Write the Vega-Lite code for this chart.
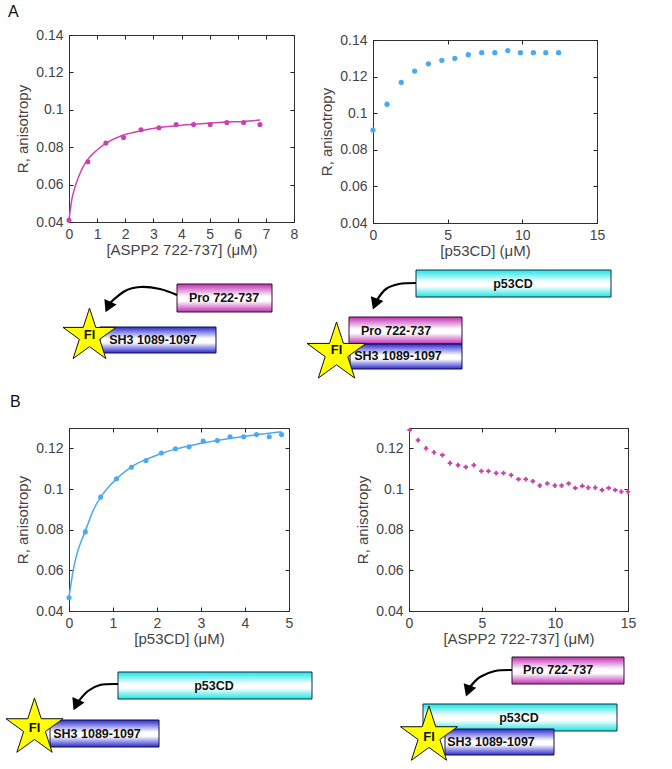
{
"$schema":"https://vega.github.io/schema/vega-lite/v6.json",
"padding":{"left":3,"top":3,"right":0,"bottom":0},
"background":"white",
"config":{
 "font":"Liberation Sans",
 "view":{"stroke":"#333333","strokeWidth":1},
 "axis":{"grid":false,"domain":false,"ticks":false,"tickSize":0,"gridColor":"#222222","gridWidth":1,"gridOpacity":1,"labelFont":"Liberation Sans","titleFont":"Liberation Sans","labelFontSize":14,"titleFontSize":15,"labelColor":"#444444","titleColor":"#444444","titleFontWeight":"normal","labelOverlap":false,"labelFlush":false},
 "title":{"font":"Liberation Sans","fontSize":16,"fontWeight":"normal","color":"#111111"}
},
"datasets":{
 "aLeftPts":[{"c":0,"r":0.0409},{"c":0.67,"r":0.0722},{"c":1.31,"r":0.0822},{"c":1.94,"r":0.0852},{"c":2.56,"r":0.0893},{"c":3.2,"r":0.0904},{"c":3.81,"r":0.0921},{"c":4.43,"r":0.0921},{"c":5.02,"r":0.0921},{"c":5.61,"r":0.0932},{"c":6.21,"r":0.0932},{"c":6.79,"r":0.0921}],
 "aLeftFit":[{"c":0,"r":0.041},{"c":0.05,"r":0.047},{"c":0.1,"r":0.052},{"c":0.2,"r":0.058},{"c":0.35,"r":0.0645},{"c":0.5,"r":0.0695},{"c":0.67,"r":0.0735},{"c":1,"r":0.0785},{"c":1.31,"r":0.082},{"c":1.94,"r":0.0865},{"c":2.56,"r":0.0888},{"c":3.2,"r":0.0905},{"c":3.81,"r":0.0915},{"c":4.43,"r":0.0923},{"c":5.02,"r":0.093},{"c":5.61,"r":0.0935},{"c":6.21,"r":0.0938},{"c":6.8,"r":0.0945}],
 "aRightPts":[{"c":0,"r":0.0908},{"c":0.94,"r":0.1049},{"c":1.89,"r":0.1168},{"c":2.79,"r":0.123},{"c":3.71,"r":0.127},{"c":4.61,"r":0.1289},{"c":5.48,"r":0.13},{"c":6.38,"r":0.132},{"c":7.28,"r":0.1331},{"c":8.16,"r":0.1331},{"c":9.03,"r":0.1342},{"c":9.87,"r":0.1331},{"c":10.74,"r":0.1331},{"c":11.57,"r":0.1331},{"c":12.43,"r":0.1331}],
 "bLeftPts":[{"c":0,"r":0.0465},{"c":0.37,"r":0.0789},{"c":0.72,"r":0.096},{"c":1.08,"r":0.105},{"c":1.42,"r":0.1107},{"c":1.75,"r":0.114},{"c":2.1,"r":0.1177},{"c":2.42,"r":0.1198},{"c":2.73,"r":0.1208},{"c":3.05,"r":0.1236},{"c":3.37,"r":0.1238},{"c":3.66,"r":0.1257},{"c":3.97,"r":0.1257},{"c":4.26,"r":0.1268},{"c":4.55,"r":0.1257},{"c":4.83,"r":0.1268}],
 "bLeftFit":[{"c":0,"r":0.047},{"c":0.05,"r":0.054},{"c":0.1,"r":0.0605},{"c":0.2,"r":0.0695},{"c":0.3,"r":0.0755},{"c":0.4,"r":0.081},{"c":0.55,"r":0.0895},{"c":0.72,"r":0.096},{"c":0.9,"r":0.101},{"c":1.08,"r":0.105},{"c":1.3,"r":0.109},{"c":1.5,"r":0.112},{"c":1.75,"r":0.1145},{"c":2.1,"r":0.1175},{"c":2.4,"r":0.1195},{"c":2.8,"r":0.1215},{"c":3.2,"r":0.1232},{"c":3.6,"r":0.1247},{"c":4,"r":0.126},{"c":4.4,"r":0.127},{"c":4.83,"r":0.1282}],
 "bRightPts":[{"c":0.05,"r":0.129},{"c":0.62,"r":0.124},{"c":1.17,"r":0.12},{"c":1.71,"r":0.118},{"c":2.29,"r":0.1167},{"c":2.81,"r":0.1127},{"c":3.36,"r":0.1117},{"c":3.89,"r":0.1108},{"c":4.44,"r":0.1117},{"c":4.96,"r":0.1088},{"c":5.44,"r":0.1088},{"c":5.97,"r":0.1078},{"c":6.47,"r":0.1078},{"c":7.0,"r":0.1068},{"c":7.5,"r":0.1048},{"c":8.0,"r":0.1048},{"c":8.48,"r":0.1038},{"c":8.96,"r":0.1017},{"c":9.47,"r":0.1027},{"c":9.99,"r":0.1017},{"c":10.45,"r":0.1017},{"c":10.93,"r":0.1027},{"c":11.39,"r":0.1005},{"c":11.87,"r":0.1015},{"c":12.28,"r":0.1007},{"c":12.76,"r":0.1007},{"c":13.22,"r":0.0995},{"c":13.67,"r":0.1005},{"c":14.13,"r":0.0995},{"c":14.54,"r":0.0987},{"c":15,"r":0.0987}],
 "boxes":[
  {"row":"A","part":"pro","label":"Pro 722-737","x0":177,"x1":272,"y0":283,"y1":311,"tx":224,"ty":297},
  {"row":"A","part":"sh3","label":"SH3 1089-1097","x0":100,"x1":216,"y0":326,"y1":352,"tx":153,"ty":339},
  {"row":"A","part":"p53","label":"p53CD","x0":416,"x1":611,"y0":269,"y1":296,"tx":513,"ty":283},
  {"row":"A","part":"pro","label":"Pro 722-737","x0":349,"x1":462,"y0":316,"y1":343,"tx":396,"ty":330},
  {"row":"A","part":"sh3","label":"SH3 1089-1097","x0":350,"x1":462,"y0":343,"y1":368,"tx":398,"ty":355},
  {"row":"B","part":"p53","label":"p53CD","x0":118,"x1":312,"y0":671,"y1":698,"tx":214,"ty":685},
  {"row":"B","part":"sh3","label":"SH3 1089-1097","x0":50,"x1":159,"y0":719,"y1":746,"tx":97,"ty":733},
  {"row":"B","part":"pro","label":"Pro 722-737","x0":512,"x1":624,"y0":656,"y1":683,"tx":558,"ty":669},
  {"row":"B","part":"p53","label":"p53CD","x0":423,"x1":617,"y0":703,"y1":730,"tx":519,"ty":717},
  {"row":"B","part":"sh3","label":"SH3 1089-1097","x0":445,"x1":554,"y0":728,"y1":754,"tx":491,"ty":741}
 ],
 "curves":[
  {"row":"A","id":"a1","o":0,"x":177,"y":294},{"row":"A","id":"a1","o":1,"x":160,"y":288},{"row":"A","id":"a1","o":2,"x":140,"y":286},{"row":"A","id":"a1","o":3,"x":125,"y":290},{"row":"A","id":"a1","o":4,"x":110,"y":302},
  {"row":"A","id":"a2","o":0,"x":416,"y":282},{"row":"A","id":"a2","o":1,"x":399,"y":283},{"row":"A","id":"a2","o":2,"x":386,"y":288},{"row":"A","id":"a2","o":3,"x":377,"y":299},
  {"row":"B","id":"b1","o":0,"x":118,"y":683},{"row":"B","id":"b1","o":1,"x":100,"y":684},{"row":"B","id":"b1","o":2,"x":88,"y":690},{"row":"B","id":"b1","o":3,"x":78,"y":701},
  {"row":"B","id":"b2","o":0,"x":512,"y":669},{"row":"B","id":"b2","o":1,"x":495,"y":670},{"row":"B","id":"b2","o":2,"x":480,"y":676},{"row":"B","id":"b2","o":3,"x":470,"y":686}
 ],
 "heads":[
  {"row":"A","x":108,"y":306,"angle":205},
  {"row":"A","x":375,"y":303,"angle":201},
  {"row":"B","x":76,"y":704,"angle":205},
  {"row":"B","x":468,"y":690,"angle":200}
 ],
 "stars":[
  {"row":"A","x":89.5,"y":335,"big":3113,"label":"Fl","ty":334},
  {"row":"A","x":336.5,"y":352,"big":3844,"label":"Fl","ty":349},
  {"row":"B","x":34.5,"y":727,"big":3600,"label":"Fl","ty":727},
  {"row":"B","x":429,"y":735,"big":3600,"label":"Fl","ty":736}
 ]
},
"bounds":"flush",
"spacing":0,
"vconcat":[
 {"bounds":"flush","spacing":79,"hconcat":[
  {"width":225,"height":187,
   "title":{"text":"A","anchor":"start","frame":"group","dx":-61,"offset":8},
   "resolve":{"axis":{"x":"independent","y":"independent"}},
   "layer":[
    {"data":{"name":"aLeftFit"},"mark":{"type":"line","color":"#cf45ae","strokeWidth":1.5,"interpolate":"monotone"},
     "encoding":{"x":{"field":"c","type":"quantitative","scale":{"domain":[0,8],"nice":false},"axis":{"values":[0,1,2,3,4,5,6,7,8],"title":"[ASPP2 722-737] (μM)","labelPadding":5,"titlePadding":1,"grid":true,"gridDash":[4,179,4,0]}},
      "y":{"field":"r","type":"quantitative","scale":{"domain":[0.04,0.14],"nice":false,"zero":false},"axis":{"values":[0.04,0.06,0.08,0.1,0.12,0.14],"format":"~g","title":"R, anisotropy","labelPadding":6,"titlePadding":5,"grid":true,"gridDash":[4,217,4,0]}}}},
    {"data":{"name":"aLeftPts"},"mark":{"type":"point","filled":true,"opacity":1,"color":"#cc40ae","size":26},
     "encoding":{"x":{"field":"c","type":"quantitative","scale":{"domain":[0,8],"nice":false},"axis":null},
      "y":{"field":"r","type":"quantitative","scale":{"domain":[0.04,0.14],"nice":false,"zero":false},"axis":null}}}
   ]},
  {"bounds":"flush","spacing":4,"vconcat":[
   {"width":1,"height":1,"view":{"stroke":null},"data":{"values":[]},"mark":"point"},
   {"width":224,"height":183,
    "data":{"name":"aRightPts"},"mark":{"type":"point","filled":true,"opacity":1,"color":"#4ca8f0","size":28},
    "encoding":{"x":{"field":"c","type":"quantitative","scale":{"domain":[0,15],"nice":false},"axis":{"values":[0,5,10,15],"title":"[p53CD] (μM)","labelPadding":5,"titlePadding":1,"grid":true,"gridDash":[4,175,4,0]}},
     "y":{"field":"r","type":"quantitative","scale":{"domain":[0.04,0.14],"nice":false,"zero":false},"axis":{"values":[0.04,0.06,0.08,0.1,0.12,0.14],"format":"~g","title":"R, anisotropy","labelPadding":6,"titlePadding":5,"grid":true,"gridDash":[4,216,4,0]}}}}
  ]}
 ]},
 {"width":603,"height":393,"view":{"stroke":null},
  "layer":[
   {"data":{"name":"boxes"},"transform":[{"filter":"datum.row==='A' && datum.part==='p53'"}],
    "mark":{"type":"rect","stroke":"#103040","strokeWidth":1,"fill":{"gradient":"linear","x1":0,"y1":0,"x2":0,"y2":1,"stops":[{"offset":0,"color":"#1fe4e4"},{"offset":0.45,"color":"#ffffff"},{"offset":0.6,"color":"#ffffff"},{"offset":1,"color":"#1fe4e4"}]}},
    "encoding":{"x":{"field":"x0","type":"quantitative","scale":{"domain":[69,672],"nice":false,"zero":false},"axis":null},"x2":{"field":"x1"},"y":{"field":"y0","type":"quantitative","scale":{"domain":[427,34],"nice":false,"zero":false},"axis":null},"y2":{"field":"y1"}}},
   {"data":{"name":"boxes"},"transform":[{"filter":"datum.row==='A' && datum.part==='pro'"}],
    "mark":{"type":"rect","stroke":"#301030","strokeWidth":1,"fill":{"gradient":"linear","x1":0,"y1":0,"x2":0,"y2":1,"stops":[{"offset":0,"color":"#c22fb4"},{"offset":0.45,"color":"#ffffff"},{"offset":0.6,"color":"#ffffff"},{"offset":1,"color":"#c22fb4"}]}},
    "encoding":{"x":{"field":"x0","type":"quantitative","scale":{"domain":[69,672],"nice":false,"zero":false},"axis":null},"x2":{"field":"x1"},"y":{"field":"y0","type":"quantitative","scale":{"domain":[427,34],"nice":false,"zero":false},"axis":null},"y2":{"field":"y1"}}},
   {"data":{"name":"boxes"},"transform":[{"filter":"datum.row==='A' && datum.part==='sh3'"}],
    "mark":{"type":"rect","stroke":"#101040","strokeWidth":1,"fill":{"gradient":"linear","x1":0,"y1":0,"x2":0,"y2":1,"stops":[{"offset":0,"color":"#2a2ad0"},{"offset":0.45,"color":"#ffffff"},{"offset":0.6,"color":"#ffffff"},{"offset":1,"color":"#2a2ad0"}]}},
    "encoding":{"x":{"field":"x0","type":"quantitative","scale":{"domain":[69,672],"nice":false,"zero":false},"axis":null},"x2":{"field":"x1"},"y":{"field":"y0","type":"quantitative","scale":{"domain":[427,34],"nice":false,"zero":false},"axis":null},"y2":{"field":"y1"}}},
   {"data":{"name":"boxes"},"transform":[{"filter":"datum.row==='A'"}],
    "mark":{"type":"text","font":"Liberation Sans","fontWeight":"bold","fontSize":12.5,"color":"#111111"},
    "encoding":{"x":{"field":"tx","type":"quantitative","scale":{"domain":[69,672],"nice":false,"zero":false},"axis":null},"y":{"field":"ty","type":"quantitative","scale":{"domain":[427,34],"nice":false,"zero":false},"axis":null},"text":{"field":"label"}}},
   {"data":{"name":"curves"},"transform":[{"filter":"datum.row==='A'"}],
    "mark":{"type":"line","color":"#000000","strokeWidth":2.2,"interpolate":"cardinal"},
    "encoding":{"x":{"field":"x","type":"quantitative","scale":{"domain":[69,672],"nice":false,"zero":false},"axis":null},"y":{"field":"y","type":"quantitative","scale":{"domain":[427,34],"nice":false,"zero":false},"axis":null},"detail":{"field":"id"},"order":{"field":"o"}}},
   {"data":{"name":"heads"},"transform":[{"filter":"datum.row==='A'"}],
    "mark":{"type":"point","shape":"triangle-up","filled":true,"opacity":1,"color":"#000000","size":180},
    "encoding":{"x":{"field":"x","type":"quantitative","scale":{"domain":[69,672],"nice":false,"zero":false},"axis":null},"y":{"field":"y","type":"quantitative","scale":{"domain":[427,34],"nice":false,"zero":false},"axis":null},"angle":{"field":"angle","type":"quantitative","scale":null}}},
   {"data":{"name":"stars"},"transform":[{"filter":"datum.row==='A'"}],
    "mark":{"type":"point","shape":"M0,-1L.2245,-.309L.951,-.309L.363,.118L.588,.809L0,.382L-.588,.809L-.363,.118L-.951,-.309L-.2245,-.309Z","filled":true,"opacity":1,"fill":"#ffff00","stroke":"#111111","strokeWidth":1},
    "encoding":{"x":{"field":"x","type":"quantitative","scale":{"domain":[69,672],"nice":false,"zero":false},"axis":null},"y":{"field":"y","type":"quantitative","scale":{"domain":[427,34],"nice":false,"zero":false},"axis":null},"size":{"field":"big","type":"quantitative","scale":null}}},
   {"data":{"name":"stars"},"transform":[{"filter":"datum.row==='A'"}],
    "mark":{"type":"text","font":"Liberation Sans","fontWeight":"bold","fontSize":13,"color":"#111111"},
    "encoding":{"x":{"field":"x","type":"quantitative","scale":{"domain":[69,672],"nice":false,"zero":false},"axis":null},"y":{"field":"ty","type":"quantitative","scale":{"domain":[427,34],"nice":false,"zero":false},"axis":null},"text":{"field":"label"}}}
  ]},
 {"bounds":"flush","spacing":120,"hconcat":[
  {"width":220,"height":183,
   "title":{"text":"B","anchor":"start","frame":"group","dx":-59,"offset":18},
   "resolve":{"axis":{"x":"independent","y":"independent"}},
   "layer":[
    {"data":{"name":"bLeftFit"},"mark":{"type":"line","color":"#4ca8f0","strokeWidth":1.5,"interpolate":"monotone"},
     "encoding":{"x":{"field":"c","type":"quantitative","scale":{"domain":[0,5],"nice":false},"axis":{"values":[0,1,2,3,4,5],"title":"[p53CD] (μM)","labelPadding":5,"titlePadding":1,"grid":true,"gridDash":[4,175,4,0]}},
      "y":{"field":"r","type":"quantitative","scale":{"domain":[0.04,0.13],"nice":false,"zero":false},"axis":{"values":[0.04,0.06,0.08,0.1,0.12],"format":"~g","title":"R, anisotropy","labelPadding":6,"titlePadding":5,"grid":true,"gridDash":[4,212,4,0]}}}},
    {"data":{"name":"bLeftPts"},"mark":{"type":"point","filled":true,"opacity":1,"color":"#4ca8f0","size":26},
     "encoding":{"x":{"field":"c","type":"quantitative","scale":{"domain":[0,5],"nice":false},"axis":null},
      "y":{"field":"r","type":"quantitative","scale":{"domain":[0.04,0.13],"nice":false,"zero":false},"axis":null}}}
   ]},
  {"width":219,"height":183,
   "data":{"name":"bRightPts"},"mark":{"type":"point","shape":"cross","filled":true,"opacity":1,"color":"#cc40ae","size":22},
   "encoding":{"x":{"field":"c","type":"quantitative","scale":{"domain":[0,15],"nice":false},"axis":{"values":[0,5,10,15],"title":"[ASPP2 722-737] (μM)","labelPadding":5,"titlePadding":1,"grid":true,"gridDash":[4,175,4,0]}},
    "y":{"field":"r","type":"quantitative","scale":{"domain":[0.04,0.13],"nice":false,"zero":false},"axis":{"values":[0.04,0.06,0.08,0.1,0.12],"format":"~g","title":"R, anisotropy","labelPadding":6,"titlePadding":5,"grid":true,"gridDash":[4,211,4,0]}}}}
 ]},
 {"width":603,"height":342,"view":{"stroke":null},
  "layer":[
   {"data":{"name":"boxes"},"transform":[{"filter":"datum.row==='B' && datum.part==='p53'"}],
    "mark":{"type":"rect","stroke":"#103040","strokeWidth":1,"fill":{"gradient":"linear","x1":0,"y1":0,"x2":0,"y2":1,"stops":[{"offset":0,"color":"#1fe4e4"},{"offset":0.45,"color":"#ffffff"},{"offset":0.6,"color":"#ffffff"},{"offset":1,"color":"#1fe4e4"}]}},
    "encoding":{"x":{"field":"x0","type":"quantitative","scale":{"domain":[69,672],"nice":false,"zero":false},"axis":null},"x2":{"field":"x1"},"y":{"field":"y0","type":"quantitative","scale":{"domain":[769,427],"nice":false,"zero":false},"axis":null},"y2":{"field":"y1"}}},
   {"data":{"name":"boxes"},"transform":[{"filter":"datum.row==='B' && datum.part==='pro'"}],
    "mark":{"type":"rect","stroke":"#301030","strokeWidth":1,"fill":{"gradient":"linear","x1":0,"y1":0,"x2":0,"y2":1,"stops":[{"offset":0,"color":"#c22fb4"},{"offset":0.45,"color":"#ffffff"},{"offset":0.6,"color":"#ffffff"},{"offset":1,"color":"#c22fb4"}]}},
    "encoding":{"x":{"field":"x0","type":"quantitative","scale":{"domain":[69,672],"nice":false,"zero":false},"axis":null},"x2":{"field":"x1"},"y":{"field":"y0","type":"quantitative","scale":{"domain":[769,427],"nice":false,"zero":false},"axis":null},"y2":{"field":"y1"}}},
   {"data":{"name":"boxes"},"transform":[{"filter":"datum.row==='B' && datum.part==='sh3'"}],
    "mark":{"type":"rect","stroke":"#101040","strokeWidth":1,"fill":{"gradient":"linear","x1":0,"y1":0,"x2":0,"y2":1,"stops":[{"offset":0,"color":"#2a2ad0"},{"offset":0.45,"color":"#ffffff"},{"offset":0.6,"color":"#ffffff"},{"offset":1,"color":"#2a2ad0"}]}},
    "encoding":{"x":{"field":"x0","type":"quantitative","scale":{"domain":[69,672],"nice":false,"zero":false},"axis":null},"x2":{"field":"x1"},"y":{"field":"y0","type":"quantitative","scale":{"domain":[769,427],"nice":false,"zero":false},"axis":null},"y2":{"field":"y1"}}},
   {"data":{"name":"boxes"},"transform":[{"filter":"datum.row==='B'"}],
    "mark":{"type":"text","font":"Liberation Sans","fontWeight":"bold","fontSize":12.5,"color":"#111111"},
    "encoding":{"x":{"field":"tx","type":"quantitative","scale":{"domain":[69,672],"nice":false,"zero":false},"axis":null},"y":{"field":"ty","type":"quantitative","scale":{"domain":[769,427],"nice":false,"zero":false},"axis":null},"text":{"field":"label"}}},
   {"data":{"name":"curves"},"transform":[{"filter":"datum.row==='B'"}],
    "mark":{"type":"line","color":"#000000","strokeWidth":2.2,"interpolate":"cardinal"},
    "encoding":{"x":{"field":"x","type":"quantitative","scale":{"domain":[69,672],"nice":false,"zero":false},"axis":null},"y":{"field":"y","type":"quantitative","scale":{"domain":[769,427],"nice":false,"zero":false},"axis":null},"detail":{"field":"id"},"order":{"field":"o"}}},
   {"data":{"name":"heads"},"transform":[{"filter":"datum.row==='B'"}],
    "mark":{"type":"point","shape":"triangle-up","filled":true,"opacity":1,"color":"#000000","size":180},
    "encoding":{"x":{"field":"x","type":"quantitative","scale":{"domain":[69,672],"nice":false,"zero":false},"axis":null},"y":{"field":"y","type":"quantitative","scale":{"domain":[769,427],"nice":false,"zero":false},"axis":null},"angle":{"field":"angle","type":"quantitative","scale":null}}},
   {"data":{"name":"stars"},"transform":[{"filter":"datum.row==='B'"}],
    "mark":{"type":"point","shape":"M0,-1L.2245,-.309L.951,-.309L.363,.118L.588,.809L0,.382L-.588,.809L-.363,.118L-.951,-.309L-.2245,-.309Z","filled":true,"opacity":1,"fill":"#ffff00","stroke":"#111111","strokeWidth":1},
    "encoding":{"x":{"field":"x","type":"quantitative","scale":{"domain":[69,672],"nice":false,"zero":false},"axis":null},"y":{"field":"y","type":"quantitative","scale":{"domain":[769,427],"nice":false,"zero":false},"axis":null},"size":{"field":"big","type":"quantitative","scale":null}}},
   {"data":{"name":"stars"},"transform":[{"filter":"datum.row==='B'"}],
    "mark":{"type":"text","font":"Liberation Sans","fontWeight":"bold","fontSize":13,"color":"#111111"},
    "encoding":{"x":{"field":"x","type":"quantitative","scale":{"domain":[69,672],"nice":false,"zero":false},"axis":null},"y":{"field":"ty","type":"quantitative","scale":{"domain":[769,427],"nice":false,"zero":false},"axis":null},"text":{"field":"label"}}}
  ]}
]
}
